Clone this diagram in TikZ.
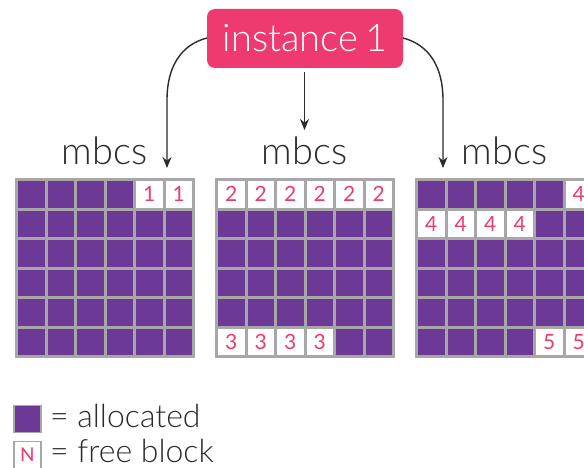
\documentclass[tikz,border=0pt]{standalone}
\usepackage{fontspec}
\setmainfont{Lato Light}
\newfontfamily\digitfont{Lato}
\usetikzlibrary{arrows.meta}
\definecolor{alloccol}{HTML}{6C3A96}
\definecolor{pinkc}{HTML}{EE3A6F}
\definecolor{gridc}{HTML}{A7A7A7}
\definecolor{textc}{HTML}{2B2B2B}
\begin{document}
\begin{tikzpicture}[x=1pt,y=-1pt,
  cellbox/.style={minimum size=26.5pt, inner sep=0pt, outer sep=0pt, anchor=north west},
  alloc/.style={cellbox, fill=alloccol},
  freeb/.style={cellbox, fill=white, text=pinkc, font=\digitfont\fontsize{21}{21}\selectfont},
  arr/.style={line width=1.4pt, draw=textc, -{Stealth[length=11pt,width=9pt]}},
  lbl/.style={font=\fontsize{38}{38}\selectfont, text=textc, anchor=base, inner sep=0pt},
  legtext/.style={font=\fontsize{32}{32}\selectfont, text=textc, anchor=base west, inner sep=0pt}]
\useasboundingbox (0,0) rectangle (584,468);
\clip (0,0) rectangle (584,468);
\fill[white] (0,0) rectangle (584,468);

% instance box
\node[fill=pinkc, rounded corners=8pt, text=white, font=\fontsize{38}{38}\selectfont,
      minimum width=196pt, minimum height=59pt, inner sep=0pt] (inst) at (305,38.5) {instance\kern-3pt\ 1};

% grids
\foreach \g in {1,2,3} {
  \pgfmathsetmacro{\xo}{15+200*(\g-1)}
  \fill[gridc] (\xo,178) rectangle ++(180,180);
  \foreach \r in {0,...,5} {
    \foreach \c in {0,...,5} {
      \node[alloc] (g\g-\r-\c) at (\xo+3+29.5*\c, 181+29.5*\r) {};
    }
  }
  \node[lbl] (m\g) at (\xo+89.5,165) {mbcs};
}

% free blocks
\foreach \g/\r/\c/\n in {1/0/4/1, 1/0/5/1,
  2/0/0/2, 2/0/1/2, 2/0/2/2, 2/0/3/2, 2/0/4/2, 2/0/5/2,
  2/5/0/3, 2/5/1/3, 2/5/2/3, 2/5/3/3,
  3/0/5/4, 3/1/0/4, 3/1/1/4, 3/1/2/4, 3/1/3/4,
  3/5/4/5, 3/5/5/5} {
  \pgfmathsetmacro{\xo}{15+200*(\g-1)}
  \node[freeb] (f\g-\r-\c) at (\xo+3+29.5*\c, 181+29.5*\r) {\n};
}

% arrows
\coordinate (lt) at (167,168);
\coordinate (mt) at (304.5,130);
\coordinate (rt) at (443,168);
\coordinate (ls) at (207,38);
\coordinate (rs) at (403,38);
\coordinate (ms) at (304.5,72);
\draw[arr] (ls) .. controls (180,45) and (167,68) .. (167,100) -- (lt);
\draw[arr] (rs) .. controls (430,45) and (443,68) .. (443,100) -- (rt);
\draw[arr] (ms) -- (mt);

% legend
\node[fill=alloccol, draw=gridc, line width=1.5pt, minimum size=27pt, inner sep=0pt] (lega) at (27.5,419) {};
\node[legtext] (legat) at (50,427) {= allocated};
\node[fill=white, draw=gridc, line width=1.5pt, minimum size=27pt, inner sep=0pt,
      text=pinkc, font=\digitfont\fontsize{19}{19}\selectfont] (legf) at (27.5,455) {N};
\node[legtext] (legft) at (50,462) {= free block};
\end{tikzpicture}
\end{document}
